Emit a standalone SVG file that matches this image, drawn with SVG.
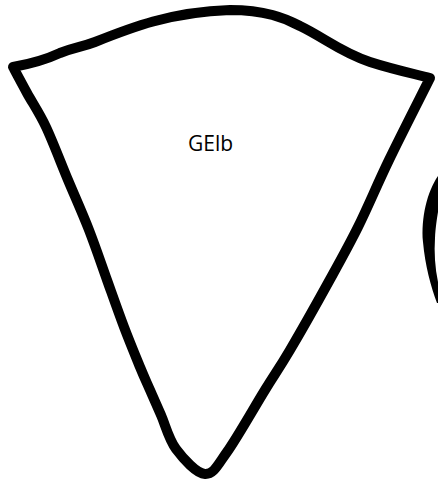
<svg xmlns="http://www.w3.org/2000/svg" width="438" height="484" viewBox="0 0 438 484">
<style>
.outline{fill:#fff;stroke:#000;stroke-width:10;stroke-linejoin:round;stroke-linecap:round}
.ink{fill:#000;stroke:none}
.lbl{font-family:"Open Sans","Noto Sans",sans-serif;font-size:21px;fill:#000;text-anchor:middle}
</style>
<rect width="438" height="484" fill="#fff"/>
<g id="node-GElb">
<path class="outline" d="M 13 67 C 30 64, 45 60, 60 53 C 75 47, 82 47, 95 42 C 130 28, 170 12, 230 10 C 265 10, 285 18, 300 26 C 325 38, 340 52, 370 62 C 395 70, 415 74, 430 78
C 423.2 91.7, 401 135.2, 389 160
C 377 184.8, 368.2 206.5, 358 227
C 347.8 247.5, 339.3 262.5, 328 283
C 316.7 303.5, 300.5 332.2, 290 350
C 279.5 367.8, 275.5 373, 265 390
C 254.5 407, 237 438, 227 452
C 217 466, 213.5 474.5, 205 474
C 196.5 473.5, 183.3 458.8, 176 449
C 168.7 439.2, 165.3 424.8, 161 415
C 156.7 405.2, 153.5 398, 150 390
C 146.5 382, 144.3 377.5, 140 367
C 135.7 356.5, 129.5 341.5, 124 327
C 118.5 312.5, 112.8 296.2, 107 280
C 101.2 263.8, 95.5 246.7, 89 230
C 82.5 213.3, 75.2 197.2, 68 180
C 60.8 162.8, 52.8 141.5, 46 127
C 39.2 112.5, 32.5 103, 27 93
C 21.5 83, 15.3 71.3, 13 67 Z"/>
<text class="lbl" x="210.5" y="151">GElb</text>
</g>
<g id="node-partial">
<path class="ink" d="M 438 176 C 427 192, 421 218, 423 242 C 425 265, 431 287, 437 303 L 438 303 L 438 282 C 435 268, 434 252, 435 238 C 435.5 228, 437 218, 438 212 Z"/>
</g>
<g id="connectors"></g>
</svg>
